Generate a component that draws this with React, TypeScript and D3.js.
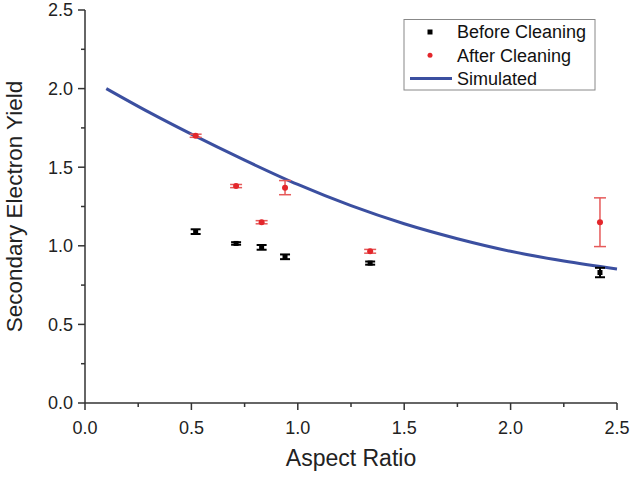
import React from 'react';
import * as d3 from 'd3';

// measured data
const aspectRatio = [0.52, 0.71, 0.83, 0.94, 1.34, 2.42];
const beforeSEY = [1.09, 1.015, 0.99, 0.93, 0.89, 0.83];
const beforeErr = [0.015, 0.008, 0.015, 0.015, 0.01, 0.03];
const afterSEY = [1.7, 1.38, 1.15, 1.37, 0.965, 1.15];
const afterErr = [0.01, 0.01, 0.01, 0.045, 0.012, 0.155];

// simulated curve
const simX = [0.1, 0.3, 0.5, 0.75, 1.0, 1.25, 1.5, 1.75, 2.0, 2.25, 2.5];
const simY = [2.0, 1.85, 1.71, 1.545, 1.39, 1.255, 1.14, 1.045, 0.965, 0.903, 0.852];

const majorTicks = [0, 0.5, 1.0, 1.5, 2.0, 2.5];
const minorTicks = [0.25, 0.75, 1.25, 1.75, 2.25];
const legendItems = ['Before Cleaning', 'After Cleaning', 'Simulated'];

const width = 630;
const height = 477;
const margin = { top: 10, right: 13, bottom: 74, left: 85 };
const font = '"Liberation Sans", Arial, sans-serif';
const axisColor = '#333';
const blue = '#3b4fa0';
const red = '#e3262b';
const redBar = '#e65a5a';

const App: React.FC = () => {
  const x = d3.scaleLinear().domain([0, 2.5]).range([margin.left, width - margin.right]);
  const y = d3.scaleLinear().domain([0, 2.5]).range([height - margin.bottom, margin.top]);

  const line = d3
    .line<number>()
    .x((_, i) => x(simX[i]))
    .y(d => y(d))
    .curve(d3.curveMonotoneX);

  const y0 = y(0);
  const x0 = x(0);

  return (
    <svg width={width} height={height} style={{ position: 'absolute', left: 0, top: 0 }} fontFamily={font}>
      <rect width={width} height={height} fill="#fff" />

      {/* x axis */}
      <line x1={x0} x2={x(2.5)} y1={y0} y2={y0} stroke={axisColor} strokeWidth={1.5} />
      {majorTicks.map(t => (
        <g key={'xt' + t}>
          <line x1={x(t)} x2={x(t)} y1={y0} y2={y0 + 7} stroke={axisColor} strokeWidth={1.5} />
          <text x={x(t)} y={y0 + 31} textAnchor="middle" fontSize={18} fill="#222">
            {t.toFixed(1)}
          </text>
        </g>
      ))}
      {minorTicks.map(t => (
        <line key={'xm' + t} x1={x(t)} x2={x(t)} y1={y0} y2={y0 + 4} stroke={axisColor} strokeWidth={1.5} />
      ))}

      {/* y axis */}
      <line x1={x0} x2={x0} y1={y0} y2={y(2.5)} stroke={axisColor} strokeWidth={1.5} />
      {majorTicks.map(t => (
        <g key={'yt' + t}>
          <line x1={x0 - 7} x2={x0} y1={y(t)} y2={y(t)} stroke={axisColor} strokeWidth={1.5} />
          <text x={x0 - 12} y={y(t)} dy="0.36em" textAnchor="end" fontSize={18} fill="#222">
            {t.toFixed(1)}
          </text>
        </g>
      ))}
      {minorTicks.map(t => (
        <line key={'ym' + t} x1={x0 - 4} x2={x0} y1={y(t)} y2={y(t)} stroke={axisColor} strokeWidth={1.5} />
      ))}

      {/* axis titles */}
      <text x={(x0 + x(2.5)) / 2} y={466} textAnchor="middle" fontSize={23} fill="#222">
        Aspect Ratio
      </text>
      <text
        transform={`translate(22,${(y0 + y(2.5)) / 2}) rotate(-90)`}
        textAnchor="middle"
        fontSize={22.5}
        fill="#222"
      >
        Secondary Electron Yield
      </text>

      {/* simulated curve */}
      <path d={line(simY) || ''} fill="none" stroke={blue} strokeWidth={3} />

      {/* before cleaning */}
      {aspectRatio.map((a, i) => {
        const cx = x(a);
        const top = y(beforeSEY[i] + beforeErr[i]);
        const bot = y(beforeSEY[i] - beforeErr[i]);
        return (
          <g key={'b' + i}>
            <line x1={cx} x2={cx} y1={top} y2={bot} stroke="#000" strokeWidth={2} />
            <line x1={cx - 5} x2={cx + 5} y1={top} y2={top} stroke="#000" strokeWidth={2} />
            <line x1={cx - 5} x2={cx + 5} y1={bot} y2={bot} stroke="#000" strokeWidth={2} />
            <rect x={cx - 2.5} y={y(beforeSEY[i]) - 2.5} width={5} height={5} fill="#000" />
          </g>
        );
      })}

      {/* after cleaning */}
      {aspectRatio.map((a, i) => {
        const cx = x(a);
        const top = y(afterSEY[i] + afterErr[i]);
        const bot = y(afterSEY[i] - afterErr[i]);
        return (
          <g key={'a' + i}>
            <line x1={cx} x2={cx} y1={top} y2={bot} stroke={redBar} strokeWidth={1.5} />
            <line x1={cx - 6} x2={cx + 6} y1={top} y2={top} stroke={redBar} strokeWidth={1.5} />
            <line x1={cx - 6} x2={cx + 6} y1={bot} y2={bot} stroke={redBar} strokeWidth={1.5} />
            <circle cx={cx} cy={y(afterSEY[i])} r={3} fill={red} />
          </g>
        );
      })}

      {/* legend */}
      <g>
        <rect x={404} y={19.5} width={191} height={70.5} fill="#fff" stroke="#888" strokeWidth={1} />
        {legendItems.map((label, i) => {
          const ly = 32 + i * 23.3;
          return (
            <g key={label}>
              {i === 0 && <rect x={427.5} y={ly - 2.5} width={5} height={5} fill="#000" />}
              {i === 1 && <circle cx={430} cy={ly} r={2.5} fill={red} />}
              {i === 2 && <line x1={410} x2={452} y1={ly} y2={ly} stroke={blue} strokeWidth={3} />}
              <text x={457} y={ly} dy="0.36em" fontSize={18} fill="#111">
                {label}
              </text>
            </g>
          );
        })}
      </g>
    </svg>
  );
};

export default App;
